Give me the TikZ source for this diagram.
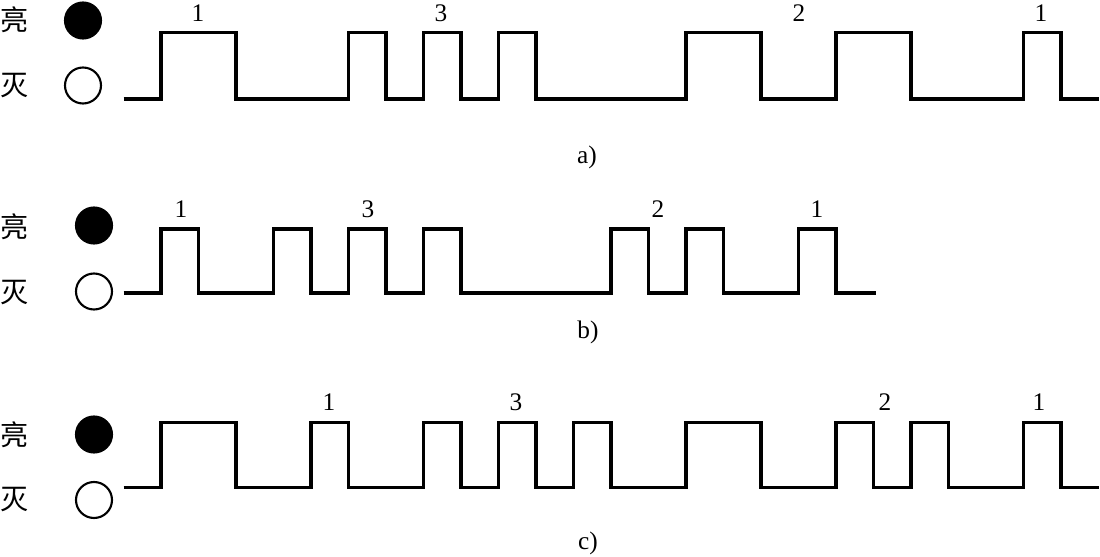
\documentclass[tikz,border=0pt]{standalone}
\usepackage{fontspec}
\setmainfont{Liberation Serif}
\newfontfamily\cjk{Noto Sans CJK SC}
\tikzset{
  wave/.style={black, line width=2.7pt},
  lamp/.style={circle, draw=black, line width=1.5pt, minimum size=0.9cm, inner sep=0pt},
  num/.style={font=\fontsize{18}{18}\selectfont, inner sep=0pt},
  hz/.style={font=\cjk\fontsize{20}{20}\selectfont, inner sep=0pt},
}
\begin{document}
\begin{tikzpicture}[x=0.025cm, y=-0.025cm]
\useasboundingbox (0,0) rectangle (1100,557);

% a)
\node[hz] (aOn) at (15,20) {亮};
\node[hz] (aOff) at (15,86) {灭};
\node[lamp, fill=black] (aLampOn) at (83,20.5) {};
\node[lamp] (aLampOff) at (83,85.5) {};
\draw[wave] (123.5,99) -| (161,32.5) -| (236,99) -| (348.5,32.5) -| (386,99) -| (423.5,32.5) -| (461,99) -| (498.5,32.5) -| (536,99) -| (686,32.5) -| (761,99) -| (836,32.5) -| (911,99) -| (1023.5,32.5) -| (1061,99) -- (1098.5,99);
\node[num] (aN1) at (198,13) {1};
\node[num] (aN3) at (441,13) {3};
\node[num] (aN2) at (799,13) {2};
\node[num] (aN1b) at (1041,13) {1};
\node[num] (aCap) at (587,157) {a)};

% b)
\node[hz] (bOn) at (15,227) {亮};
\node[hz] (bOff) at (15,293) {灭};
\node[lamp, fill=black] (bLampOn) at (94,225.5) {};
\node[lamp] (bLampOff) at (94,291.5) {};
\draw[wave] (123.5,293) -| (161,229) -| (198.5,293) -| (273.5,229) -| (311,293) -| (348.5,229) -| (386,293) -| (423.5,229) -| (461,293) -| (611,229) -| (648.5,293) -| (686,229) -| (723.5,293) -| (798.5,229) -| (836,293) -- (876,293);
\node[num] (bN1) at (181,209) {1};
\node[num] (bN3) at (368,209) {3};
\node[num] (bN2) at (658,209) {2};
\node[num] (bN1b) at (817,209) {1};
\node[num] (bCap) at (588,332) {b)};

% c)
\node[hz] (cOn) at (15,435) {亮};
\node[hz] (cOff) at (15,500) {灭};
\node[lamp, fill=black] (cLampOn) at (94,434.5) {};
\node[lamp] (cLampOff) at (94,500) {};
\draw[wave] (123.5,487.5) -| (161,422.5) -| (236,487.5) -| (311,422.5) -| (348.5,487.5) -| (423.5,422.5) -| (461,487.5) -| (498.5,422.5) -| (536,487.5) -| (573.5,422.5) -| (611,487.5) -| (686,422.5) -| (761,487.5) -| (836,422.5) -| (873.5,487.5) -| (911,422.5) -| (948.5,487.5) -| (1023.5,422.5) -| (1061,487.5) -- (1098.5,487.5);
\node[num] (cN1) at (329,402) {1};
\node[num] (cN3) at (516,402) {3};
\node[num] (cN2) at (885,402) {2};
\node[num] (cN1b) at (1039,402) {1};
\node[num] (cCap) at (588,543) {c)};

\end{tikzpicture}
\end{document}
